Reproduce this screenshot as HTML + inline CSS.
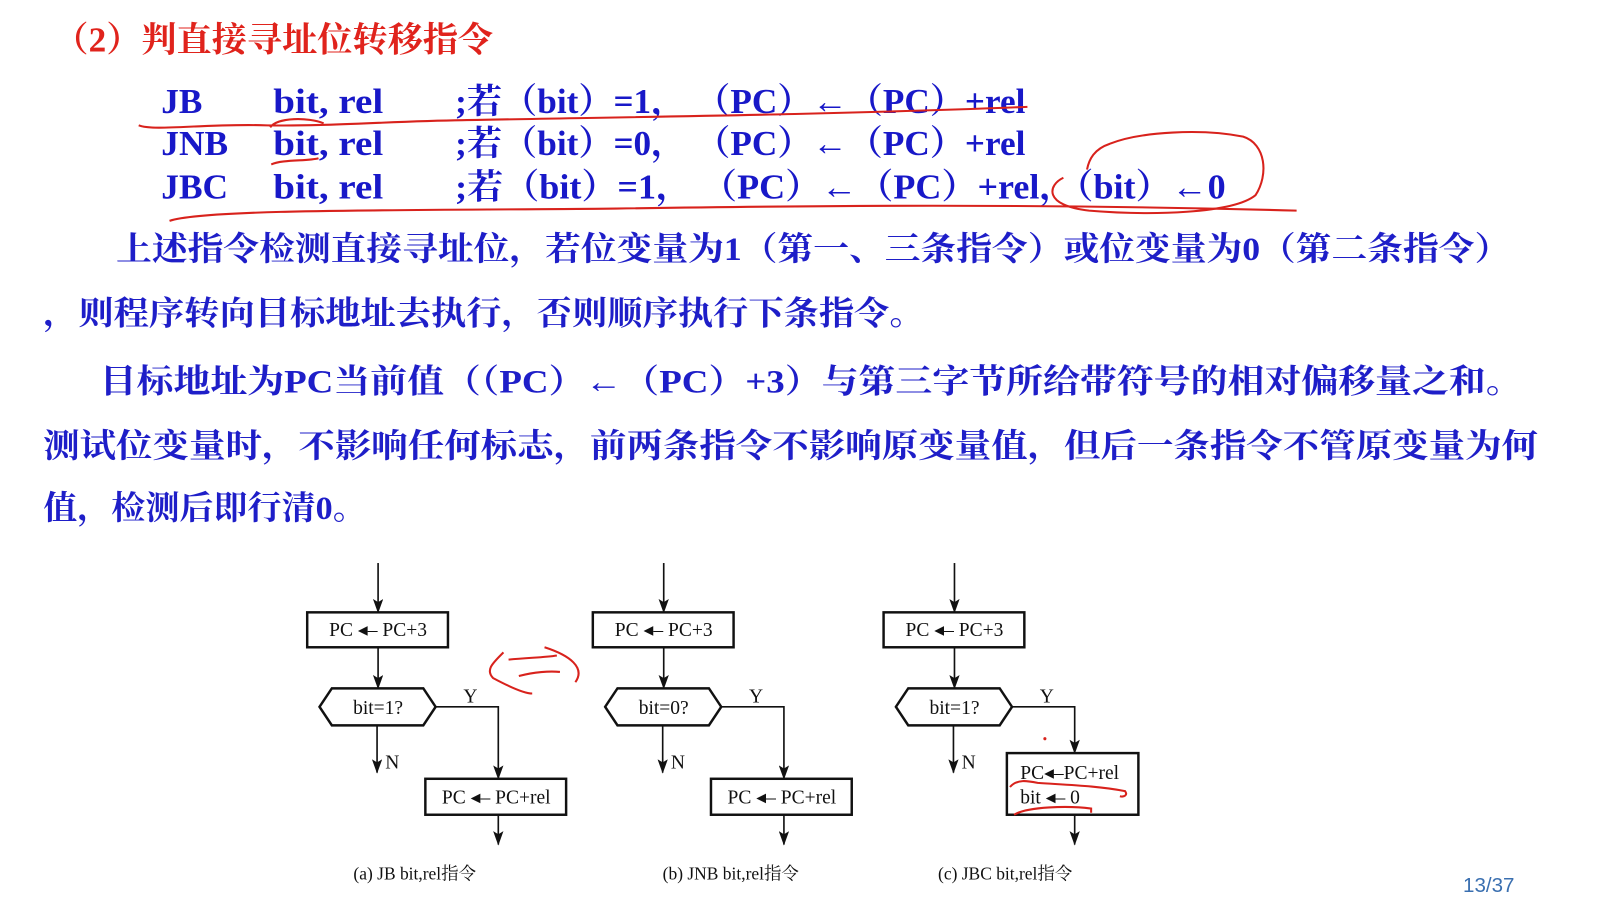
<!DOCTYPE html>
<html><head><meta charset="utf-8"><style>
html,body{margin:0;padding:0;background:#fff;width:1611px;height:918px;overflow:hidden}
svg{display:block}
.t{font-family:"Liberation Serif","Noto Serif CJK SC",serif}
.code{font-family:"Liberation Serif","Noto Serif CJK SC",serif;font-weight:bold;fill:#1818c8;font-size:34px}
.p{font-family:"Liberation Serif","Noto Serif CJK SC",serif;font-weight:bold;fill:#1e1ec8;font-size:32px}
.f{font-family:"Liberation Serif","Noto Serif CJK SC",serif;fill:#111;font-size:19px}
.red{fill:none;stroke:#d8221c;stroke-width:2}
.ln{stroke:#111;stroke-width:1.6;fill:none}
.bx{stroke:#111;stroke-width:2.4;fill:#fff}
</style></head><body>
<svg width="1611" height="918" viewBox="0 0 1568 893.5" preserveAspectRatio="none" xmlns="http://www.w3.org/2000/svg">
<defs>
<marker id="ar" markerWidth="14" markerHeight="10" refX="13" refY="5" orient="auto" markerUnits="userSpaceOnUse" viewBox="0 0 14 10">
<path d="M0,0 L14,5 L0,10 L3,5 Z" fill="#111"/></marker>
</defs>
<text x="52" y="50" class="t" style="font-size:34px;fill:#e0231c;font-weight:bold" textLength="428" lengthAdjust="spacingAndGlyphs">（2）判直接寻址位转移指令</text>

<g class="code">
<text x="157" y="110" textLength="40" lengthAdjust="spacingAndGlyphs">JB</text><text x="266" y="110" textLength="107" lengthAdjust="spacingAndGlyphs">bit,  rel</text>
<text x="443" y="110" textLength="555" lengthAdjust="spacingAndGlyphs">;若（bit）=1， （PC）←（PC）+rel</text>
<text x="157" y="151" textLength="65" lengthAdjust="spacingAndGlyphs">JNB</text><text x="266" y="151" textLength="107" lengthAdjust="spacingAndGlyphs">bit,  rel</text>
<text x="443" y="151" textLength="555" lengthAdjust="spacingAndGlyphs">;若（bit）=0， （PC）←（PC）+rel</text>
<text x="157" y="193" textLength="65" lengthAdjust="spacingAndGlyphs">JBC</text><text x="266" y="193" textLength="107" lengthAdjust="spacingAndGlyphs">bit,  rel</text>
<text x="443" y="193" textLength="750" lengthAdjust="spacingAndGlyphs">;若（bit）=1， （PC）←（PC）+rel，（bit）←0</text>
</g>

<g class="p">
<text x="113" y="253" textLength="1357" lengthAdjust="spacingAndGlyphs">上述指令检测直接寻址位，若位变量为1（第一、三条指令）或位变量为0（第二条指令）</text>
<text x="42" y="316" textLength="858" lengthAdjust="spacingAndGlyphs">，则程序转向目标地址去执行，否则顺序执行下条指令。</text>
<text x="97" y="382" textLength="1385" lengthAdjust="spacingAndGlyphs">目标地址为PC当前值（（PC）←（PC）+3）与第三字节所给带符号的相对偏移量之和。</text>
<text x="42" y="445" textLength="1455" lengthAdjust="spacingAndGlyphs">测试位变量时，不影响任何标志，前两条指令不影响原变量值，但后一条指令不管原变量为何</text>
<text x="42" y="505" textLength="315" lengthAdjust="spacingAndGlyphs">值，检测后即行清0。</text>
</g>

<path class="red" d="M135,122 C150,128 200,120 260,122 C320,123 380,118 450,117 C600,114 800,112 1000,104"/>
<path class="red" d="M263,124 C270,114 300,114 315,120 M264,160 C275,155 300,157 310,154"/>
<path class="red" d="M165,215 C200,203 400,205 600,203 C800,200 1000,198 1262,205"/>
<path class="red" d="M1035,173 C1020,180 1015,200 1060,205 C1120,210 1200,208 1222,190 C1235,170 1232,140 1210,133 C1170,125 1110,128 1080,140 C1065,145 1060,155 1058,165"/>
<path class="red" d="M490,635 C480,645 472,652 480,660 C495,668 510,675 518,675 M495,642 C515,640 530,640 542,638 M505,658 C520,654 535,653 545,654 M530,630 C555,638 570,650 560,664"/>

<g>
<line class="ln" x1="368" y1="548" x2="368" y2="596" marker-end="url(#ar)"/>
<rect class="bx" x="299" y="596" width="137" height="34"/>
<text class="f" x="368" y="619" text-anchor="middle">PC ◂– PC+3</text>
<line class="ln" x1="368" y1="630" x2="368" y2="670" marker-end="url(#ar)"/>
<polygon class="bx" points="311,688 323,670 412,670 424,688 412,706 323,706"/>
<text class="f" x="368" y="695" text-anchor="middle">bit=1?</text>
<text class="f" x="451" y="684">Y</text>
<polyline class="ln" points="424,688 485,688 485,758" marker-end="url(#ar)"/>
<line class="ln" x1="367" y1="706" x2="367" y2="752" marker-end="url(#ar)"/>
<text class="f" x="375" y="748">N</text>
<rect class="bx" x="414" y="758" width="137" height="35"/>
<text class="f" x="483" y="782" text-anchor="middle">PC ◂– PC+rel</text>
<line class="ln" x1="485" y1="793" x2="485" y2="822" marker-end="url(#ar)"/>
<text class="f" x="344" y="856" style="font-size:17px">(a) JB bit,rel指令</text>
</g>
<g>
<line class="ln" x1="646" y1="548" x2="646" y2="596" marker-end="url(#ar)"/>
<rect class="bx" x="577" y="596" width="137" height="34"/>
<text class="f" x="646" y="619" text-anchor="middle">PC ◂– PC+3</text>
<line class="ln" x1="646" y1="630" x2="646" y2="670" marker-end="url(#ar)"/>
<polygon class="bx" points="589,688 601,670 690,670 702,688 690,706 601,706"/>
<text class="f" x="646" y="695" text-anchor="middle">bit=0?</text>
<text class="f" x="729" y="684">Y</text>
<polyline class="ln" points="702,688 763,688 763,758" marker-end="url(#ar)"/>
<line class="ln" x1="645" y1="706" x2="645" y2="752" marker-end="url(#ar)"/>
<text class="f" x="653" y="748">N</text>
<rect class="bx" x="692" y="758" width="137" height="35"/>
<text class="f" x="761" y="782" text-anchor="middle">PC ◂– PC+rel</text>
<line class="ln" x1="763" y1="793" x2="763" y2="822" marker-end="url(#ar)"/>
<text class="f" x="645" y="856" style="font-size:17px">(b) JNB bit,rel指令</text>
</g>
<g>
<line class="ln" x1="929" y1="548" x2="929" y2="596" marker-end="url(#ar)"/>
<rect class="bx" x="860" y="596" width="137" height="34"/>
<text class="f" x="929" y="619" text-anchor="middle">PC ◂– PC+3</text>
<line class="ln" x1="929" y1="630" x2="929" y2="670" marker-end="url(#ar)"/>
<polygon class="bx" points="872,688 884,670 973,670 985,688 973,706 884,706"/>
<text class="f" x="929" y="695" text-anchor="middle">bit=1?</text>
<text class="f" x="1012" y="684">Y</text>
<polyline class="ln" points="985,688 1046,688 1046,733" marker-end="url(#ar)"/>
<line class="ln" x1="928" y1="706" x2="928" y2="752" marker-end="url(#ar)"/>
<text class="f" x="936" y="748">N</text>
<rect class="bx" x="980" y="733" width="128" height="60"/>
<text class="f" x="993" y="758">PC◂–PC+rel</text>
<text class="f" x="993" y="782">bit ◂– 0</text>
<line class="ln" x1="1046" y1="793" x2="1046" y2="822" marker-end="url(#ar)"/>
<text class="f" x="913" y="856" style="font-size:17px">(c) JBC bit,rel指令</text>
<path class="red" d="M983,766 C990,758 1000,760 1010,762 C1040,764 1070,765 1095,770 C1098,774 1094,776 1090,775 M987,793 C1000,785 1040,784 1062,787 L1062,791"/>
<circle cx="1017" cy="719" r="1.5" fill="#d8221c"/>
</g>
<text x="1424" y="868" style="font-family:'Liberation Sans',sans-serif;font-size:20px;fill:#3a6fb0">13/37</text>
</svg>
</body></html>
